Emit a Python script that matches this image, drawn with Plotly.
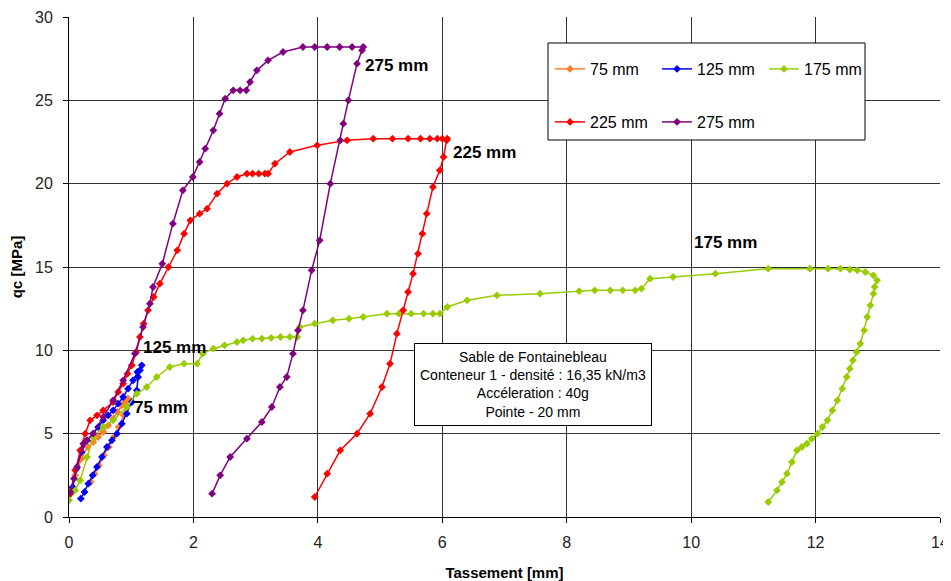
import plotly.graph_objects as go

# ---- data (Tassement [mm], qc [MPa]) ----
x_75 = [0.03, 0.10, 0.20, 0.30, 0.39, 0.47, 0.55, 0.63, 0.71, 0.78, 0.85, 0.90, 0.95,
        0.88, 0.80, 0.72, 0.64, 0.56, 0.48, 0.41, 0.35]
y_75 = [1.6, 2.5, 3.5, 4.2, 4.5, 4.8, 5.1, 5.5, 5.9, 6.3, 6.7, 6.9, 7.1,
        6.1, 5.4, 4.8, 4.2, 3.7, 3.1, 2.6, 2.1]

x_125 = [0.06, 0.12, 0.20, 0.29, 0.39, 0.47, 0.55, 0.63, 0.71, 0.79, 0.87, 0.95, 1.03, 1.10, 1.17,
         1.14, 1.11, 1.09, 1.01, 0.93, 0.85, 0.77, 0.69, 0.61, 0.53, 0.45, 0.38, 0.31, 0.25, 0.19]
y_125 = [1.8, 2.9, 3.9, 4.6, 5.0, 5.4, 5.8, 6.1, 6.4, 6.8, 7.2, 7.7, 8.2, 8.7, 9.1,
         8.8, 8.4, 7.6, 6.9, 6.2, 5.6, 5.0, 4.6, 4.2, 3.6, 3.0, 2.5, 2.0, 1.5, 1.1]

x_175 = [0.00, 0.10, 0.18, 0.29, 0.39, 0.55, 0.71, 0.93, 1.09, 1.25, 1.41, 1.62, 1.85, 2.06, 2.15,
         2.32, 2.50, 2.70, 2.80, 2.95, 3.10, 3.25, 3.40, 3.55, 3.67, 3.71, 3.95, 4.24, 4.50, 4.73,
         5.11, 5.30, 5.50, 5.70, 5.85, 5.96, 6.08, 6.40, 6.88, 7.57, 8.20, 8.45, 8.70, 8.90, 9.10,
         9.20, 9.34, 9.71, 10.39, 11.24, 11.91, 12.20, 12.40, 12.55, 12.67, 12.80, 12.93, 12.99,
         12.95, 12.93, 12.88, 12.83, 12.78, 12.72, 12.66, 12.60, 12.55, 12.50, 12.43, 12.35,
         12.27, 12.19, 12.11, 12.03, 11.94, 11.86, 11.78, 11.70, 11.62, 11.54, 11.46, 11.38, 11.24]
y_175 = [1.0, 1.6, 2.2, 3.6, 4.8, 5.4, 5.8, 6.6, 7.4, 7.8, 8.4, 9.0, 9.2, 9.2, 9.8,
         10.1, 10.3, 10.5, 10.6, 10.7, 10.7, 10.75, 10.8, 10.8, 10.8, 11.4, 11.6, 11.8, 11.9, 12.0,
         12.2, 12.2, 12.2, 12.2, 12.2, 12.2, 12.6, 13.0, 13.3, 13.4, 13.55, 13.6, 13.6, 13.6, 13.6,
         13.7, 14.3, 14.4, 14.6, 14.9, 14.9, 14.9, 14.9, 14.85, 14.8, 14.7, 14.5, 14.2,
         13.8, 13.4, 12.7, 12.0, 11.2, 10.4, 9.9, 9.4, 8.9, 8.4, 7.7, 7.0,
         6.4, 5.8, 5.4, 5.0, 4.7, 4.4, 4.2, 4.0, 3.3, 2.6, 2.1, 1.6, 0.9]

x_225 = [0.02, 0.10, 0.18, 0.26, 0.34, 0.45, 0.55, 0.71, 0.79, 0.87, 0.94, 1.01, 1.08, 1.14,
         1.20, 1.27, 1.36, 1.46, 1.60, 1.74, 1.85, 1.95, 2.10, 2.22, 2.38, 2.54, 2.70, 2.86,
         2.95, 3.05, 3.15, 3.20, 3.31, 3.55, 3.99, 4.47, 4.89, 5.20, 5.45, 5.65, 5.80, 5.92,
         6.00, 6.08,
         6.07, 6.02, 5.96, 5.85, 5.75, 5.68, 5.61, 5.53, 5.45, 5.37, 5.27, 5.16, 5.03, 4.84,
         4.63, 4.36, 4.15, 3.95]
y_225 = [1.4, 2.8, 4.0, 5.0, 5.8, 6.1, 6.4, 6.9, 7.5, 8.0, 8.6, 9.1, 9.9, 10.8,
         11.6, 12.4, 13.2, 14.0, 15.0, 16.0, 17.0, 17.8, 18.2, 18.5, 19.4, 20.0, 20.4, 20.6,
         20.6, 20.6, 20.6, 20.6, 21.2, 21.9, 22.3, 22.6, 22.7, 22.7, 22.7, 22.7, 22.7, 22.7,
         22.7, 22.7,
         22.6, 21.6, 20.8, 19.8, 18.2, 17.0, 15.8, 14.6, 13.5, 12.4, 11.0, 9.2, 7.8, 6.2,
         5.0, 4.0, 2.6, 1.2]

x_275 = [0.02, 0.08, 0.13, 0.23, 0.29, 0.39, 0.55, 0.71, 0.87, 1.06, 1.19, 1.30, 1.35,
         1.50, 1.67, 1.83, 1.99, 2.10, 2.19, 2.32, 2.42, 2.51, 2.64, 2.75, 2.85, 2.91, 3.02,
         3.20, 3.44, 3.76, 3.95, 4.15, 4.35, 4.55, 4.73,
         4.71, 4.63, 4.49, 4.41, 4.36, 4.20, 4.03, 3.90, 3.76, 3.68, 3.60, 3.50, 3.39,
         3.26, 3.10, 2.86, 2.59, 2.43, 2.30]
y_275 = [1.5, 2.3, 3.0, 4.4, 4.6, 5.0, 6.0, 7.0, 8.2, 9.8, 11.4, 12.8, 13.8,
         15.2, 17.6, 19.6, 20.4, 21.3, 22.1, 23.2, 24.2, 25.1, 25.6, 25.6, 25.6, 26.1, 26.8,
         27.4, 27.9, 28.2, 28.2, 28.2, 28.2, 28.2, 28.2,
         28.0, 27.2, 25.0, 23.6, 22.6, 20.0, 16.6, 14.8, 12.4, 11.2, 9.8, 8.4, 7.8,
         6.6, 5.7, 4.7, 3.6, 2.5, 1.4]

series_names = ["75 mm", "125 mm", "175 mm", "225 mm", "275 mm"]
series_x = [x_75, x_125, x_175, x_225, x_275]
series_y = [y_75, y_125, y_175, y_225, y_275]
series_colors = ["#FF7F27", "#0000FF", "#99CC00", "#FF0000", "#800080"]
series_legend = ["legend", "legend", "legend", "legend2", "legend2"]

x_ticks = [0, 2, 4, 6, 8, 10, 12, 14]
y_ticks = [0, 5, 10, 15, 20, 25, 30]

curve_labels = ["275 mm", "225 mm", "175 mm", "125 mm", "75 mm"]
curve_label_x = [4.73, 6.14, 10.02, 1.16, 1.01]
curve_label_y = [27.1, 21.9, 16.5, 10.2, 6.6]

info_text = ("Sable de Fontainebleau<br>Conteneur 1 - densité : 16,35 kN/m3"
             "<br>Accéleration : 40g<br>Pointe - 20 mm")

FONT = "Liberation Sans, Arial, sans-serif"

# The page body adds an 8px offset; plot area must land at x 69..940, y 17..517
OFF = 8
PL, PR, PT, PB = 69, 940, 17, 517
FIG_W, FIG_H = 951 - OFF, 581 - OFF
PW, PH = PR - PL, PB - PT

fig = go.Figure()
for name, xs, ys, col, lg in zip(series_names, series_x, series_y, series_colors, series_legend):
    fig.add_trace(go.Scatter(
        x=xs, y=ys, name=name, mode="lines+markers",
        line=dict(color=col, width=1.5),
        marker=dict(symbol="diamond", size=6, color=col),
        legend=lg,
    ))

for t, lx, ly in zip(curve_labels, curve_label_x, curve_label_y):
    fig.add_annotation(x=lx, y=ly, text="<b>" + t + "</b>", showarrow=False,
                       xanchor="left", yanchor="middle",
                       font=dict(family=FONT, size=17, color="black"))

fig.add_annotation(x=7.46, y=7.98, text=info_text, showarrow=False,
                   xanchor="center", yanchor="middle", align="center",
                   font=dict(family=FONT, size=14, color="black"),
                   bgcolor="white", bordercolor="black", borderwidth=1, borderpad=5)

# legend box
fig.add_shape(type="rect", xref="paper", yref="paper",
              x0=(548 - PL) / PW, x1=(865 - PL) / PW,
              y0=(PB - 140) / PH, y1=(PB - 43) / PH,
              fillcolor="white", line=dict(color="black", width=1), layer="above")

leg_common = dict(orientation="h", bgcolor="rgba(0,0,0,0)", borderwidth=0,
                  font=dict(family=FONT, size=16, color="black"),
                  entrywidth=62, xanchor="left", yanchor="middle",
                  tracegroupgap=0, itemclick=False)
fig.update_layout(
    legend=dict(x=(550 - PL) / PW, y=(PB - 69) / PH, **leg_common),
    legend2=dict(x=(550 - PL) / PW, y=(PB - 122) / PH, **leg_common),
)

fig.update_xaxes(range=[0, 14], tickvals=x_ticks, showgrid=True, gridcolor="#333333",
                 gridwidth=1, showline=True, linecolor="black", linewidth=1,
                 ticks="outside", ticklen=5, tickcolor="black", zeroline=False,
                 automargin=False, ticklabelstandoff=6,
                 tickfont=dict(family=FONT, size=16, color="#222222"),
                 title=dict(text="<b>Tassement [mm]</b>", standoff=21,
                            font=dict(family=FONT, size=15, color="black")))
fig.update_yaxes(range=[0, 30], tickvals=y_ticks, showgrid=True, gridcolor="#333333",
                 gridwidth=1, showline=True, linecolor="black", linewidth=1,
                 ticks="outside", ticklen=5, tickcolor="black", zeroline=False,
                 automargin=False, ticklabelstandoff=7,
                 tickfont=dict(family=FONT, size=16, color="#222222"),
                 title=dict(text="<b>qc [MPa]</b>", standoff=12,
                            font=dict(family=FONT, size=15, color="black")))

fig.update_layout(width=FIG_W, height=FIG_H,
                  margin=dict(l=PL - OFF, r=OFF + FIG_W - PR, t=PT - OFF, b=OFF + FIG_H - PB),
                  paper_bgcolor="white", plot_bgcolor="white", showlegend=True)

fig.write_html("out.html")
